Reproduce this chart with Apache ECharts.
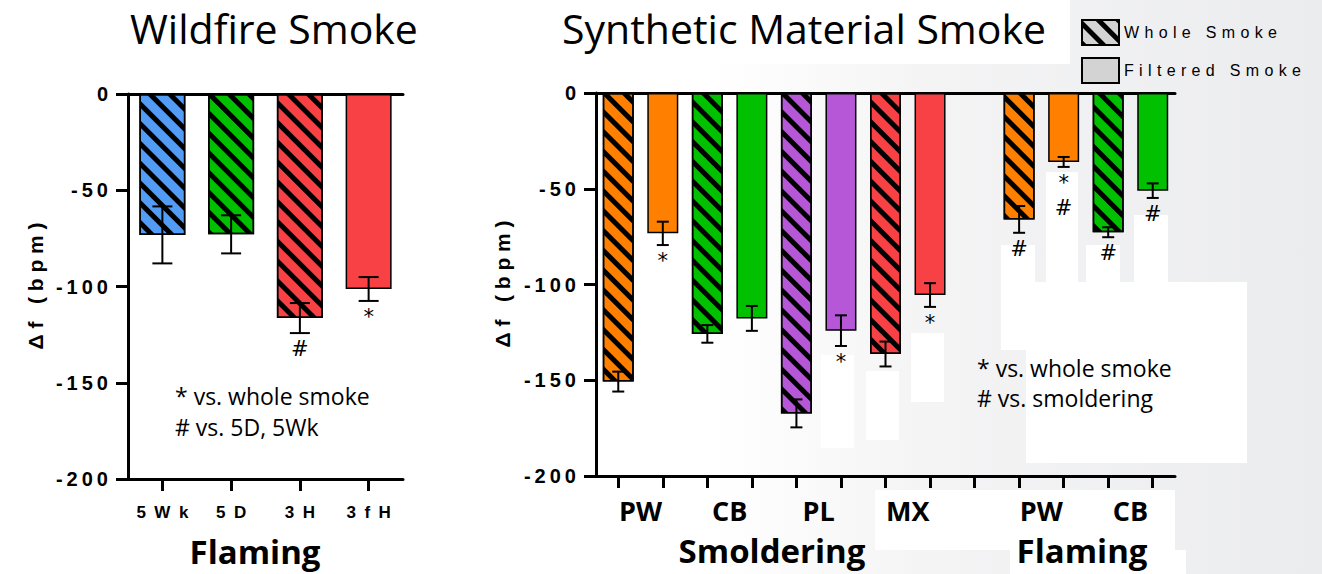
<!DOCTYPE html>
<html>
<head>
<meta charset="utf-8">
<script src="https://cdn.jsdelivr.net/npm/echarts@6/dist/echarts.min.js"></script>
<style>
  html, body { margin: 0; padding: 0; }
  body {
    width: 1322px; height: 574px; overflow: hidden;
    background: linear-gradient(90deg, #ffffff 0%, #ffffff 54%, #f4f4f5 70%, #ebecee 100%);
  }
  #chart { width: 1322px; height: 574px; }
</style>
</head>
<body>
<div id="chart"></div>
<script>
// ---- Wildfire smoke (flaming) ----
const leftCategories = ['5Wk', '5D', '3H', '3fH'];
const leftWhole      = [-73.2, -72.9, -116.4, null];
const leftFiltered   = [null, null, null, -101.3];
const leftSem        = [14.8, 9.9, 7.8, 6.2];
const leftMarks      = ['', '', '#', '*'];
const leftColors     = ['#529cf6', '#00c000', '#f74144', '#f74144'];

// ---- Synthetic material smoke: one slot per bar, slot 8 is the gap ----
const rightSlots     = ['PW W', 'PW F', 'CB W', 'CB F', 'PL W', 'PL F', 'MX W', 'MX F', ' ', 'PW W2', 'PW F2', 'CB W2', 'CB F2'];
const rightWhole     = [-150.7, null, -125.8, null, -167.3, null, -136.3, null, null, -66.0, null, -72.7, null];
const rightFiltered  = [null, -73.3, null, -117.7, null, -124.1, null, -105.5, null, null, -36.0, null, -51.0];
const rightSem       = [5.2, 6.1, 4.6, 6.5, 7.3, 8.0, 6.5, 6.2, null, 7.0, 2.6, 2.6, 3.8];
const rightMarks     = ['', '*', '', '', '', '*', '', '*', '', '#', '*\n#', '#', '#'];
const rightColors    = ['#ff8000', '#ff8000', '#00c000', '#00c000', '#b657d8', '#b657d8', '#f74144', '#f74144', null,
                        '#ff8000', '#ff8000', '#00c000', '#00c000'];
// material labels sit between the whole/filtered pair (slot boundary positions)
const rightGroupNames = ['PW', 'CB', 'PL', 'MX', 'PW', 'CB'];
const rightGroupPos   = [1, 3, 5, 7, 10, 12];

const yMin = -200, yMax = 0, yStep = 50;

const spaced = (s, sep) => Array.from(s).join(sep);
const PRISM = '"Liberation Sans", Arial, sans-serif';
const SLIDE = '"Open Sans", "Noto Sans", sans-serif';
const MARKS = '"DejaVu Sans", sans-serif';

const hatch = {
  symbol: 'rect', symbolSize: 1, color: '#000',
  dashArrayX: [1, 0], dashArrayY: [5, 9], rotation: Math.PI / 4
};

function barData(values, colors) {
  return values.map((v, i) => v == null ? '-' : { value: v, itemStyle: { color: colors[i] } });
}

function errorSeries(xAxisIndex, yAxisIndex, whole, filtered, sems, marks, capHalf) {
  const items = [];
  whole.forEach((w, i) => {
    const m = w != null ? w : filtered[i];
    if (m != null) items.push({ value: [i, m, sems[i]], mark: marks[i] });
  });
  return {
    type: 'custom', xAxisIndex, yAxisIndex, z: 5, silent: true,
    data: items.map(d => d.value),
    renderItem(params, api) {
      const i = api.value(0), m = api.value(1), s = api.value(2);
      const hi = api.coord([i, m + s]);
      const lo = api.coord([i, m - s]);
      const x = hi[0];
      const stroke = { stroke: '#000', lineWidth: 2 };
      const children = [
        { type: 'line', shape: { x1: x, y1: hi[1], x2: x, y2: lo[1] }, style: stroke },
        { type: 'line', shape: { x1: x - capHalf, y1: hi[1], x2: x + capHalf, y2: hi[1] }, style: stroke },
        { type: 'line', shape: { x1: x - capHalf, y1: lo[1], x2: x + capHalf, y2: lo[1] }, style: stroke }
      ];
      // significance marks stacked below the lower whisker, one text per line
      const mark = items[params.dataIndex].mark;
      if (mark) {
        mark.split('\n').forEach((line, k) => {
          children.push({
            type: 'text', x: x, y: lo[1] + 5 + k * 25,
            style: { text: line, align: 'center', verticalAlign: 'top', fill: '#000',
                     font: '21px ' + MARKS, lineHeight: 22 }
          });
        });
      }
      return { type: 'group', children };
    }
  };
}

const yAxisBase = {
  type: 'value', min: yMin, max: yMax, interval: yStep,
  axisLine: { show: true, lineStyle: { color: '#000', width: 3 } },
  axisTick: { show: true, length: 12, lineStyle: { color: '#000', width: 3 } },
  axisLabel: { margin: 20, color: '#000', fontFamily: PRISM, fontWeight: 'bold', fontSize: 20,
               formatter: v => spaced(String(v), '\u2009') },
  splitLine: { show: false }
};
const topLine = (gridIndex, data) => ({
  type: 'category', gridIndex, data, position: 'top',
  axisLine: { show: true, onZero: false, lineStyle: { color: '#000', width: 3 } },
  axisTick: { show: false }, axisLabel: { show: false }, splitLine: { show: false }
});

const chart = echarts.init(document.getElementById('chart'), null, { renderer: 'svg' });

// white backdrop panels behind the pasted figure parts
const whiteBg = [
  [1001, 282, 246, 68], [1026, 282, 221, 181], [1046, 172, 32, 110], [1001, 245, 34, 37],
  [1086, 245, 34, 37], [1134, 215, 34, 67], [935, 490, 240, 60], [1010, 550, 176, 24],
  [875, 490, 300, 60], [911, 333, 33, 69], [866, 371, 33, 69], [821, 355, 33, 93], [0, 0, 1070, 64]
];

chart.setOption({
  animation: false,
  grid: [
    { left: 128, top: 94, width: 275, height: 385 },
    { left: 596, top: 93, width: 579, height: 383 }
  ],
  legend: {
    data: ['Whole Smoke', 'Filtered Smoke'],
    orient: 'vertical', left: 1076, top: 14,
    itemWidth: 37, itemHeight: 25, itemGap: 11, icon: 'rect',
    itemStyle: { borderColor: '#000', borderWidth: 2 },
    formatter: name => spaced(name, '\u2004'),
    textStyle: { color: '#000', fontFamily: PRISM, fontSize: 16 },
    selectedMode: false
  },
  xAxis: [
    {
      type: 'category', gridIndex: 0, data: leftCategories, position: 'bottom',
      axisLine: { show: true, onZero: false, lineStyle: { color: '#000', width: 3 } },
      axisTick: { show: true, alignWithLabel: true, length: 12, lineStyle: { color: '#000', width: 3 } },
      axisLabel: { margin: 25, color: '#000', fontFamily: PRISM, fontWeight: 'bold', fontSize: 17,
                   formatter: v => spaced(v, '\u2002') }
    },
    topLine(0, leftCategories),
    {
      type: 'category', gridIndex: 1, data: rightSlots, position: 'bottom',
      axisLine: { show: true, onZero: false, lineStyle: { color: '#000', width: 3 } },
      axisTick: { show: true, alignWithLabel: true, interval: 0, length: 12, lineStyle: { color: '#000', width: 3 } },
      axisLabel: { show: false }
    },
    topLine(1, rightSlots),
    {
      type: 'value', gridIndex: 1, min: 0, max: rightSlots.length, interval: 1, position: 'bottom',
      axisLine: { show: false, onZero: false }, axisTick: { show: false }, splitLine: { show: false },
      axisLabel: {
        margin: 19, color: '#000', fontFamily: SLIDE, fontWeight: 'bold', fontSize: 27, lineHeight: 30,
        showMinLabel: true, showMaxLabel: true,
        formatter: v => { const k = rightGroupPos.indexOf(v); return k >= 0 ? rightGroupNames[k] : ''; }
      }
    }
  ],
  yAxis: [
    Object.assign({ gridIndex: 0 }, yAxisBase),
    Object.assign({ gridIndex: 1 }, yAxisBase)
  ],
  series: [
    { name: 'Whole Smoke', type: 'bar', xAxisIndex: 0, yAxisIndex: 0, barWidth: 46, barGap: '-100%',
      itemStyle: { color: '#d3d3d3', borderColor: '#000', borderWidth: 1.5, decal: hatch },
      data: barData(leftWhole, leftColors) },
    { name: 'Filtered Smoke', type: 'bar', xAxisIndex: 0, yAxisIndex: 0, barWidth: 46, barGap: '-100%',
      itemStyle: { color: '#d3d3d3', borderColor: '#000', borderWidth: 1.5 },
      data: barData(leftFiltered, leftColors) },
    errorSeries(0, 0, leftWhole, leftFiltered, leftSem, leftMarks, 10),
    { name: 'Whole Smoke', type: 'bar', xAxisIndex: 2, yAxisIndex: 1, barWidth: 31, barGap: '-100%',
      itemStyle: { color: '#d3d3d3', borderColor: '#000', borderWidth: 1.5, decal: hatch },
      data: barData(rightWhole, rightColors) },
    { name: 'Filtered Smoke', type: 'bar', xAxisIndex: 2, yAxisIndex: 1, barWidth: 31, barGap: '-100%',
      itemStyle: { color: '#d3d3d3', borderColor: '#000', borderWidth: 1.5 },
      data: barData(rightFiltered, rightColors) },
    errorSeries(2, 1, rightWhole, rightFiltered, rightSem, rightMarks, 6)
  ],
  graphic: [
    ...whiteBg.map(r => ({ type: 'rect', z: -10, silent: true,
      shape: { x: r[0], y: r[1], width: r[2], height: r[3] }, style: { fill: '#ffffff' } })),
    { type: 'text', x: 130, y: 28, style: { text: 'Wildfire Smoke', font: '41px ' + SLIDE, fill: '#000',
      lineHeight: 44, align: 'left', verticalAlign: 'middle' } },
    { type: 'text', x: 562, y: 28, style: { text: 'Synthetic Material Smoke', font: '41px ' + SLIDE, fill: '#000',
      lineHeight: 44, align: 'left', verticalAlign: 'middle' } },
    { type: 'text', x: 35, y: 286, rotation: Math.PI / 2, style: { text: spaced('\u0394f (bpm)', ' '),
      font: 'bold 21px ' + PRISM, fill: '#000', align: 'center', verticalAlign: 'middle' } },
    { type: 'text', x: 502, y: 284, rotation: Math.PI / 2, style: { text: spaced('\u0394f (bpm)', ' '),
      font: 'bold 21px ' + PRISM, fill: '#000', align: 'center', verticalAlign: 'middle' } },
    { type: 'text', x: 255, y: 551, style: { text: 'Flaming', font: 'bold 33px ' + SLIDE, fill: '#000',
      align: 'center', verticalAlign: 'middle' } },
    { type: 'text', x: 772, y: 550, style: { text: 'Smoldering', font: 'bold 33px ' + SLIDE, fill: '#000',
      align: 'center', verticalAlign: 'middle' } },
    { type: 'text', x: 1082, y: 550, style: { text: 'Flaming', font: 'bold 33px ' + SLIDE, fill: '#000',
      align: 'center', verticalAlign: 'middle' } },
    { type: 'text', x: 175, y: 380, style: { text: '* vs. whole smoke\n# vs. 5D, 5Wk', font: '23px ' + SLIDE,
      lineHeight: 31, fill: '#000', align: 'left', verticalAlign: 'top' } },
    { type: 'text', x: 977, y: 353, style: { text: '* vs. whole smoke\n# vs. smoldering', font: '23px ' + SLIDE,
      lineHeight: 30, fill: '#000', align: 'left', verticalAlign: 'top' } }
  ]
});
</script>
</body>
</html>
